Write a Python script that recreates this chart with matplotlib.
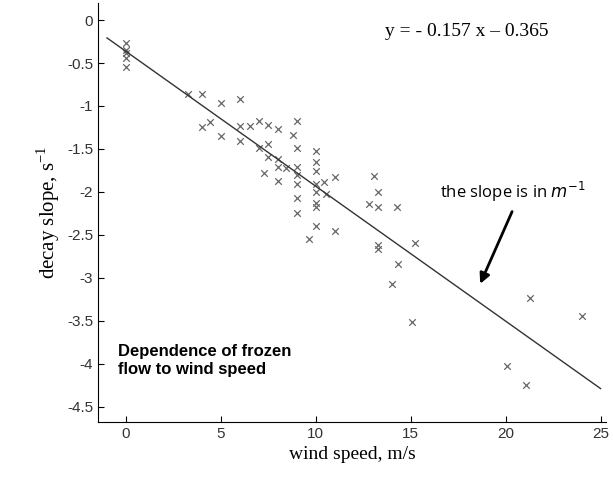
import numpy as np
import matplotlib
matplotlib.use("Agg")
from matplotlib import pyplot as plt

wind = [0, 0, 0, 0, 0, 3.25, 4.0, 5.0, 6.0, 4.0, 4.4, 5.0, 6.0, 6.0, 6.55, 7.0, 7.5, 8.0,
        9.0, 8.8, 7.0, 7.5, 7.5, 8.0, 9.0, 8.0, 8.45, 9.0, 7.25, 8.0, 9.0, 9.0, 9.0, 9.0,
        10, 10, 10, 10, 10, 10, 10, 10, 9.65, 10.45, 10.55, 11.0, 11.0, 13.05, 13.3, 12.8,
        13.3, 13.3, 13.3, 14.3, 14.35, 14.0, 15.25, 15.05, 21.3, 24.0, 20.05, 21.05]
decay = [-0.27, -0.35, -0.38, -0.44, -0.55, -0.86, -0.86, -0.97, -0.92, -1.25, -1.19, -1.35,
         -1.23, -1.41, -1.23, -1.17, -1.22, -1.27, -1.17, -1.34, -1.49, -1.44, -1.59, -1.62,
         -1.49, -1.71, -1.72, -1.71, -1.78, -1.87, -1.80, -1.91, -2.07, -2.25, -1.52, -1.65,
         -1.76, -1.91, -2.00, -2.13, -2.18, -2.40, -2.55, -1.88, -2.02, -1.83, -2.46, -1.82,
         -2.00, -2.14, -2.18, -2.62, -2.67, -2.18, -2.84, -3.07, -2.59, -3.52, -3.23, -3.44,
         -4.03, -4.25]
slope, intercept = -0.157, -0.365

fig = plt.figure(figsize=(6.13, 4.78), dpi=100)
ax = fig.add_axes([0.16, 0.117, 0.829, 0.877])
ax.scatter(wind, decay, marker="x", s=22, color="#666666", linewidths=0.9)
xl = np.array([-1, 25])
ax.plot(xl, slope * xl + intercept, color="#333333", lw=1)

ax.set_xlim(-1.47, 25.3)
ax.set_ylim(-4.68, 0.2)
ax.set_xticks([0, 5, 10, 15, 20, 25])
ax.set_yticks(np.arange(0, -4.6, -0.5))
ax.set_yticklabels(["0", "-0.5", "-1", "-1.5", "-2", "-2.5", "-3", "-3.5", "-4", "-4.5"])
ax.tick_params(labelsize=11, direction="in", length=4, right=False, top=False)
for lab in ax.get_xticklabels() + ax.get_yticklabels():
    lab.set_family("Liberation Sans")
    lab.set_color("#333333")
ax.spines["top"].set_visible(False)
ax.spines["right"].set_visible(False)

ax.set_xlabel("wind speed, m/s", family="Liberation Serif", fontsize=14)
ax.set_ylabel("decay slope, s$^{\\mathregular{-1}}$", family="Liberation Serif", fontsize=15)

ax.text(0.565, 0.92, "y = - 0.157 x \u2013 0.365", transform=ax.transAxes,
        family="Liberation Serif", fontsize=14)
ax.text(0.672, 0.535, "the slope is in $m^{-1}$", transform=ax.transAxes,
        family="Open Sans", fontsize=12)
ax.annotate("", xy=(18.6, -3.1), xytext=(20.4, -2.2),
            arrowprops=dict(arrowstyle="-|>", color="black", lw=2, mutation_scale=15))
ax.text(0.04, 0.115, "Dependence of frozen\nflow to wind speed", transform=ax.transAxes,
        family="Liberation Sans", fontweight="bold", fontsize=12, linespacing=1.2)

fig.savefig("out.png", dpi=100)
